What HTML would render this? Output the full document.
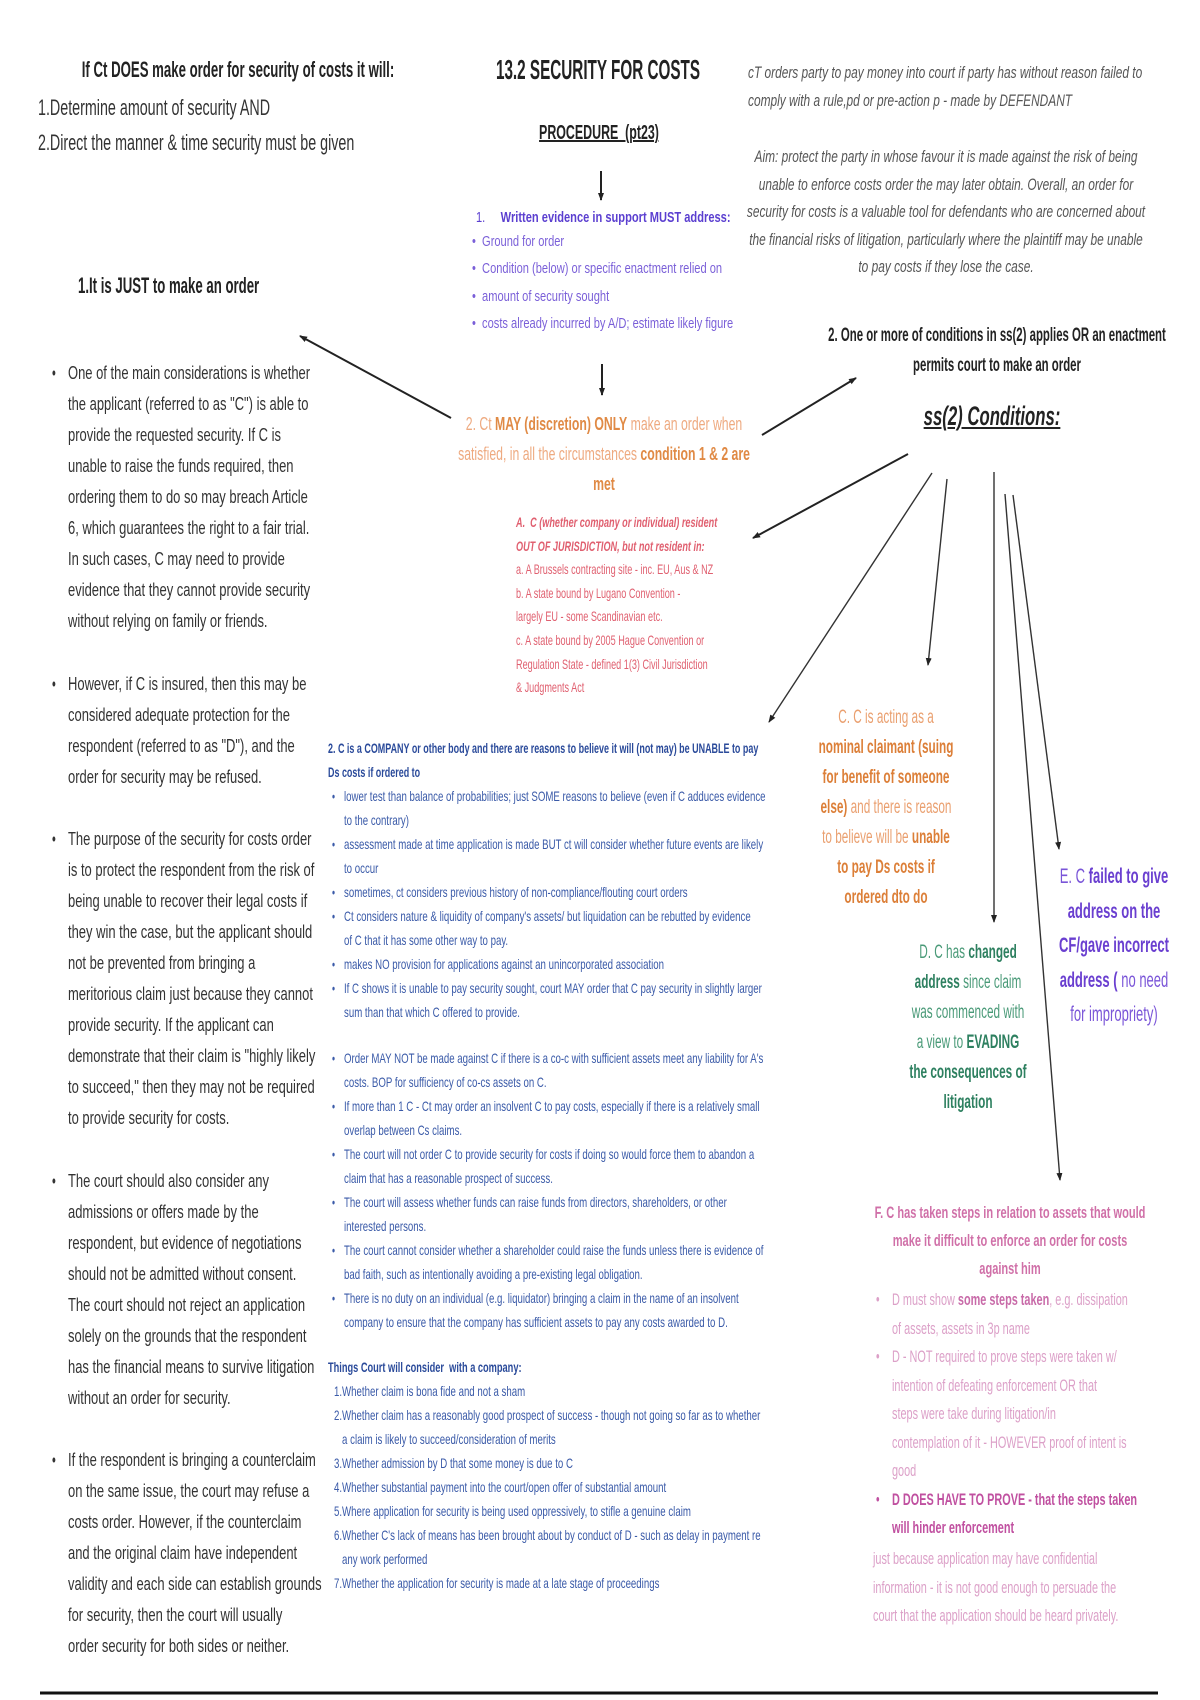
<!DOCTYPE html>
<html><head><meta charset="utf-8">
<style>
html,body{margin:0;padding:0;background:#fff;}
body{width:1200px;height:1700px;position:relative;overflow:hidden;font-family:"Liberation Sans",sans-serif;color:#333;}
.l{position:absolute;white-space:nowrap;transform-origin:0 0;}
.c{position:absolute;white-space:nowrap;text-align:center;}
b{font-weight:bold}
</style></head><body>

<div class="c" style="left:238px;top:56px;font-size:22px;font-weight:bold;line-height:28px;color:#222;transform:translateX(-50%) scaleX(.6)">If Ct DOES make order for security of costs it will:</div>
<div class="l" style="left:38px;top:90px;font-size:22px;line-height:35px;color:#333;transform:scaleX(.65)">1.Determine amount of security AND<br>2.Direct the manner &amp; time security must be given</div>

<div class="c" style="left:598px;top:54px;font-size:28px;font-weight:bold;line-height:32px;color:#222;transform:translateX(-50%) scaleX(.545)">13.2 SECURITY FOR COSTS</div>
<div class="c" style="left:599px;top:120px;font-size:20px;font-weight:bold;line-height:26px;color:#222;text-decoration:underline;transform:translateX(-50%) scaleX(.62)">PROCEDURE&nbsp; (pt23)</div>

<div class="l" style="left:748px;top:59px;font-size:17px;font-style:italic;line-height:28px;color:#555;transform:scaleX(.7)">cT orders party to pay money into court if party has without reason failed to<br>comply with a rule,pd or pre-action p - made by DEFENDANT</div>
<div class="c" style="left:946px;top:143px;font-size:17px;font-style:italic;line-height:27.5px;color:#555;transform:translateX(-50%) scaleX(.7)">Aim: protect the party in whose favour it is made against the risk of being<br>unable to enforce costs order the may later obtain. Overall, an order for<br>security for costs is a valuable tool for defendants who are concerned about<br>the financial risks of litigation, particularly where the plaintiff may be unable<br>to pay costs if they lose the case.</div>

<div class="l" style="left:476px;top:204px;font-size:15px;line-height:27px;color:#5b3fd0;transform:scaleX(.74)">1.&nbsp;&nbsp;&nbsp;&nbsp; <b>Written evidence in support MUST address:</b></div>
<div class="l" style="left:472px;top:228px;font-size:15px;line-height:27.3px;color:#7a5fd8;transform:scaleX(.74)">•&nbsp; Ground for order<br>•&nbsp; Condition (below) or specific enactment relied on<br>•&nbsp; amount of security sought<br>•&nbsp; costs already incurred by A/D; estimate likely figure</div>

<div class="l" style="left:78px;top:272px;font-size:22px;font-weight:bold;line-height:28px;color:#222;transform:scaleX(.6)">1.It is JUST to make an order</div>
<div class="c" style="left:997px;top:321px;font-size:19px;font-weight:bold;line-height:30px;color:#222;transform:translateX(-50%) scaleX(.6)">2. One or more of conditions in ss(2) applies OR an enactment<br>permits court to make an order</div>
<div class="c" style="left:992px;top:400px;font-size:27px;font-weight:bold;font-style:italic;line-height:32px;color:#222;text-decoration:underline;transform:translateX(-50%) scaleX(.62)">ss(2) Conditions:</div>

<div class="c" style="left:604px;top:409px;font-size:18px;line-height:30px;color:#eeaa80;transform:translateX(-50%) scaleX(.68)">2. Ct <b style="color:#e08a45">MAY (discretion) ONLY</b> make an order when<br>satisfied, in all the circumstances <b style="color:#e08a45">condition 1 &amp; 2 are<br>met</b></div>

<div class="l" style="left:516px;top:511px;font-size:14px;line-height:23.6px;color:#e06070;transform:scaleX(.65)"><b><i>A.&nbsp; C (whether company or individual) resident<br>OUT OF JURISDICTION, but not resident in:</i></b><br>a. A Brussels contracting site - inc. EU, Aus &amp; NZ<br>b. A state bound by Lugano Convention -<br>largely EU - some Scandinavian etc.<br>c. A state bound by 2005 Hague Convention or<br>Regulation State - defined 1(3) Civil Jurisdiction<br>&amp; Judgments Act</div>

<div style="position:absolute;left:52px;top:358px;font-size:18px;line-height:31px;color:#333;">
<div class="l" style="left:0;top:0;transform:scaleX(.6)">•</div>
<div class="l" style="left:16px;top:0;transform:scaleX(.72)">One of the main considerations is whether<br>the applicant (referred to as "C") is able to<br>provide the requested security. If C is<br>unable to raise the funds required, then<br>ordering them to do so may breach Article<br>6, which guarantees the right to a fair trial.<br>In such cases, C may need to provide<br>evidence that they cannot provide security<br>without relying on family or friends.</div>
<div class="l" style="left:0;top:311px;transform:scaleX(.6)">•</div>
<div class="l" style="left:16px;top:311px;transform:scaleX(.72)">However, if C is insured, then this may be<br>considered adequate protection for the<br>respondent (referred to as "D"), and the<br>order for security may be refused.</div>
<div class="l" style="left:0;top:466px;transform:scaleX(.6)">•</div>
<div class="l" style="left:16px;top:466px;transform:scaleX(.72)">The purpose of the security for costs order<br>is to protect the respondent from the risk of<br>being unable to recover their legal costs if<br>they win the case, but the applicant should<br>not be prevented from bringing a<br>meritorious claim just because they cannot<br>provide security. If the applicant can<br>demonstrate that their claim is "highly likely<br>to succeed," then they may not be required<br>to provide security for costs.</div>
<div class="l" style="left:0;top:808px;transform:scaleX(.6)">•</div>
<div class="l" style="left:16px;top:808px;transform:scaleX(.72)">The court should also consider any<br>admissions or offers made by the<br>respondent, but evidence of negotiations<br>should not be admitted without consent.<br>The court should not reject an application<br>solely on the grounds that the respondent<br>has the financial means to survive litigation<br>without an order for security.</div>
<div class="l" style="left:0;top:1087px;transform:scaleX(.6)">•</div>
<div class="l" style="left:16px;top:1087px;transform:scaleX(.72)">If the respondent is bringing a counterclaim<br>on the same issue, the court may refuse a<br>costs order. However, if the counterclaim<br>and the original claim have independent<br>validity and each side can establish grounds<br>for security, then the court will usually<br>order security for both sides or neither.</div>
</div>

<div style="position:absolute;left:328px;top:736px;font-size:14px;line-height:24px;color:#3a5aa8;">
<div class="l" style="left:0;top:0;transform:scaleX(.64);color:#2a4a9a"><b>2. C is a COMPANY or other body and there are reasons to believe it will (not may) be UNABLE to pay<br>Ds costs if ordered to</b></div>
<div class="l" style="left:4px;top:48px;transform:scaleX(.62)">•<br><br>•<br><br>•<br>•<br><br>•<br>•</div>
<div class="l" style="left:16px;top:48px;transform:scaleX(.69)">lower test than balance of probabilities; just SOME reasons to believe (even if C adduces evidence<br>to the contrary)<br>assessment made at time application is made BUT ct will consider whether future events are likely<br>to occur<br>sometimes, ct considers previous history of non-compliance/flouting court orders<br>Ct considers nature &amp; liquidity of company's assets/ but liquidation can be rebutted by evidence<br>of C that it has some other way to pay.<br>makes NO provision for applications against an unincorporated association<br>If C shows it is unable to pay security sought, court MAY order that C pay security in slightly larger<br>sum than that which C offered to provide.</div>
<div class="l" style="left:4px;top:310px;transform:scaleX(.62)">•<br><br>•<br><br>•<br><br>•<br><br>•<br><br>•</div>
<div class="l" style="left:16px;top:310px;transform:scaleX(.69)">Order MAY NOT be made against C if there is a co-c with sufficient assets meet any liability for A's<br>costs. BOP for sufficiency of co-cs assets on C.<br>If more than 1 C - Ct may order an insolvent C to pay costs, especially if there is a relatively small<br>overlap between Cs claims.<br>The court will not order C to provide security for costs if doing so would force them to abandon a<br>claim that has a reasonable prospect of success.<br>The court will assess whether funds can raise funds from directors, shareholders, or other<br>interested persons.<br>The court cannot consider whether a shareholder could raise the funds unless there is evidence of<br>bad faith, such as intentionally avoiding a pre-existing legal obligation.<br>There is no duty on an individual (e.g. liquidator) bringing a claim in the name of an insolvent<br>company to ensure that the company has sufficient assets to pay any costs awarded to D.</div>
<div class="l" style="left:0;top:619px;transform:scaleX(.66);color:#2a4a9a"><b>Things Court will consider&nbsp; with a company:</b></div>
<div class="l" style="left:6px;top:643px;transform:scaleX(.69)">1.Whether claim is bona fide and not a sham<br>2.Whether claim has a reasonably good prospect of success - though not going so far as to whether<br>&nbsp;&nbsp; a claim is likely to succeed/consideration of merits<br>3.Whether admission by D that some money is due to C<br>4.Whether substantial payment into the court/open offer of substantial amount<br>5.Where application for security is being used oppressively, to stifle a genuine claim<br>6.Whether C's lack of means has been brought about by conduct of D - such as delay in payment re<br>&nbsp;&nbsp; any work performed<br>7.Whether the application for security is made at a late stage of proceedings</div>
</div>

<div class="c" style="left:886px;top:703px;font-size:19px;line-height:30px;color:#eaa070;transform:translateX(-50%) scaleX(.62)">C. C is acting as a<br><b style="color:#dc7f38">nominal claimant (suing<br>for benefit of someone<br>else)</b> and there is reason<br>to believe will be <b style="color:#dc7f38">unable<br>to pay Ds costs if<br>ordered dto do</b></div>

<div class="c" style="left:968px;top:938px;font-size:19px;line-height:30px;color:#4a9a78;transform:translateX(-50%) scaleX(.62)">D. C has <b style="color:#2e8060">changed<br>address</b> since claim<br>was commenced with<br>a view to <b style="color:#2e8060">EVADING<br>the consequences of<br>litigation</b></div>

<div class="c" style="left:1114px;top:860px;font-size:21px;line-height:34.5px;color:#7a55d8;transform:translateX(-50%) scaleX(.62)">E. C <b style="color:#6a3fd0">failed to give<br>address on the<br>CF/gave incorrect<br>address (</b> no need<br>for impropriety)</div>

<div class="c" style="left:1010px;top:1199px;font-size:17px;line-height:28px;color:#d070a8;transform:translateX(-50%) scaleX(.65)"><b>F. C has taken steps in relation to assets that would<br>make it difficult to enforce an order for costs<br>against him</b></div>
<div class="l" style="left:876px;top:1286px;font-size:17px;line-height:28.5px;color:#dca0c8;transform:scaleX(.6)">•<br><br>•<br><br><br><br><br><span style="color:#c050a0">•</span></div>
<div class="l" style="left:892px;top:1286px;font-size:17px;line-height:28.5px;color:#dca0c8;transform:scaleX(.64)">D must show <b style="color:#c86aa8">some steps taken</b>, e.g. dissipation<br>of assets, assets in 3p name<br>D - NOT required to prove steps were taken w/<br>intention of defeating enforcement OR that<br>steps were take during litigation/in<br>contemplation of it - HOWEVER proof of intent is<br>good<br><b style="color:#c050a0">D DOES HAVE TO PROVE - that the steps taken<br>will hinder enforcement</b></div>
<div class="l" style="left:873px;top:1545px;font-size:17px;line-height:28.5px;color:#dca0c8;transform:scaleX(.64)">just because application may have confidential<br>information - it is not good enough to persuade the<br>court that the application should be heard privately.</div>

<svg width="1200" height="1700" style="position:absolute;left:0;top:0" xmlns="http://www.w3.org/2000/svg">
<defs><marker id="a" markerWidth="8" markerHeight="8" refX="7" refY="4" orient="auto" markerUnits="userSpaceOnUse"><path d="M0,1 L8,4 L0,7 z" fill="#222"/></marker></defs>
<g stroke="#222" stroke-width="2" fill="none" marker-end="url(#a)">
<line x1="601" y1="171" x2="601" y2="200"/>
<line x1="602" y1="364" x2="602" y2="395"/>
<line x1="451" y1="418" x2="300" y2="336"/>
<line x1="762" y1="435" x2="856" y2="378"/>
<line x1="908" y1="454" x2="753" y2="538"/>
</g>
<g stroke="#333" stroke-width="1.4" fill="none" marker-end="url(#a)">
<line x1="932" y1="473" x2="769" y2="722"/>
<line x1="947" y1="479" x2="928" y2="665"/>
<line x1="994" y1="472" x2="994" y2="922"/>
<line x1="1005" y1="494" x2="1060" y2="1180"/>
<line x1="1013" y1="495" x2="1059" y2="849"/>
</g>
<line x1="40" y1="1693" x2="1158" y2="1693" stroke="#111" stroke-width="3"/>
</svg>
</body></html>
